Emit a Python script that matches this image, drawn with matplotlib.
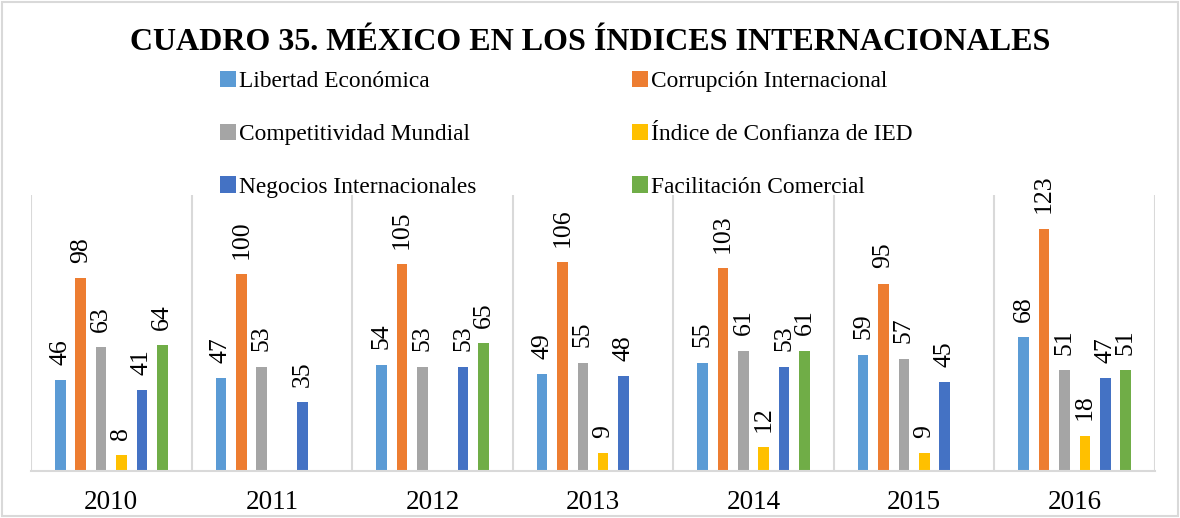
import numpy as np
import matplotlib
matplotlib.use("Agg")
import matplotlib.pyplot as plt
from matplotlib.patches import Rectangle, Patch

plt.rcParams['font.family'] = ['Liberation Serif', 'DejaVu Serif']

years = ['2010', '2011', '2012', '2013', '2014', '2015', '2016']
series_names = [
    'Libertad Económica',
    'Corrupción Internacional',
    'Competitividad Mundial',
    'Índice de Confianza de IED',
    'Negocios Internacionales',
    'Facilitación Comercial',
]
libertad = [46, 47, 54, 49, 55, 59, 68]
corrupcion = [98, 100, 105, 106, 103, 95, 123]
competitividad = [63, 53, 53, 55, 61, 57, 51]
confianza_ied = [8, np.nan, np.nan, 9, 12, 9, 18]
negocios = [41, 35, 53, 48, 53, 45, 47]
facilitacion = [64, np.nan, 65, np.nan, 61, np.nan, 51]
series_values = [libertad, corrupcion, competitividad, confianza_ied, negocios, facilitacion]
colors = ['#5B9BD5', '#ED7D31', '#A5A5A5', '#FFC000', '#4472C4', '#70AD47']

W, H = 1180, 518
fig = plt.figure(figsize=(W / 100, H / 100), dpi=100)

# outer chart border
fig.patches.append(Rectangle((2 / W, 2 / H), 1 - 4 / W, 1 - 4 / H, transform=fig.transFigure,
                             fill=False, edgecolor='#D9D9D9', linewidth=1.5))

ax = fig.add_axes([31 / W, (H - 471) / H, 1124 / W, 276 / H])
x = np.arange(len(years))
step = 0.127
width = 0.066
for i, (name, vals, c) in enumerate(zip(series_names, series_values, colors)):
    pos = x + (i - 2.5) * step
    v = np.array(vals, dtype=float)
    ax.bar(pos, np.nan_to_num(v), width=width, color=c, label=name)
    for p, val in zip(pos, v):
        if np.isnan(val):
            continue
        ax.annotate(f'{int(val)}', (p, val), xytext=(0, 11), textcoords='offset points',
                    rotation=90, ha='center', va='bottom', fontsize=18.5)

ax.set_xlim(-0.5, len(years) - 0.5)
ax.set_ylim(0, 140)
ax.set_yticks([])
ax.set_xticks(x)
ax.set_xticklabels(years, fontsize=19.5)
ax.tick_params(axis='x', length=0, pad=14)
for b in np.arange(-0.5, len(years), 1.0):
    ax.axvline(b, color='#D9D9D9', linewidth=1.5, zorder=0)
for s in ['top', 'right', 'left']:
    ax.spines[s].set_visible(False)
ax.spines['bottom'].set_color('#D9D9D9')
ax.spines['bottom'].set_linewidth(1.5)

fig.text(0.5, (H - 42) / H, 'CUADRO 35. MÉXICO EN LOS ÍNDICES INTERNACIONALES',
         ha='center', va='center', fontsize=23, fontweight='bold')

handles = [Patch(facecolor=c) for c in colors]
order = [0, 2, 4, 1, 3, 5]
fig.legend([handles[k] for k in order], [series_names[k] for k in order], ncol=2,
           loc='upper left', bbox_to_anchor=(220 / W, 1 - 71 / H), frameon=False,
           fontsize=16.8, handlelength=0.7, handleheight=0.7, handletextpad=0.12,
           labelspacing=1.34, columnspacing=6.65, borderaxespad=0, borderpad=0)

fig.savefig('out.png', dpi=100)
